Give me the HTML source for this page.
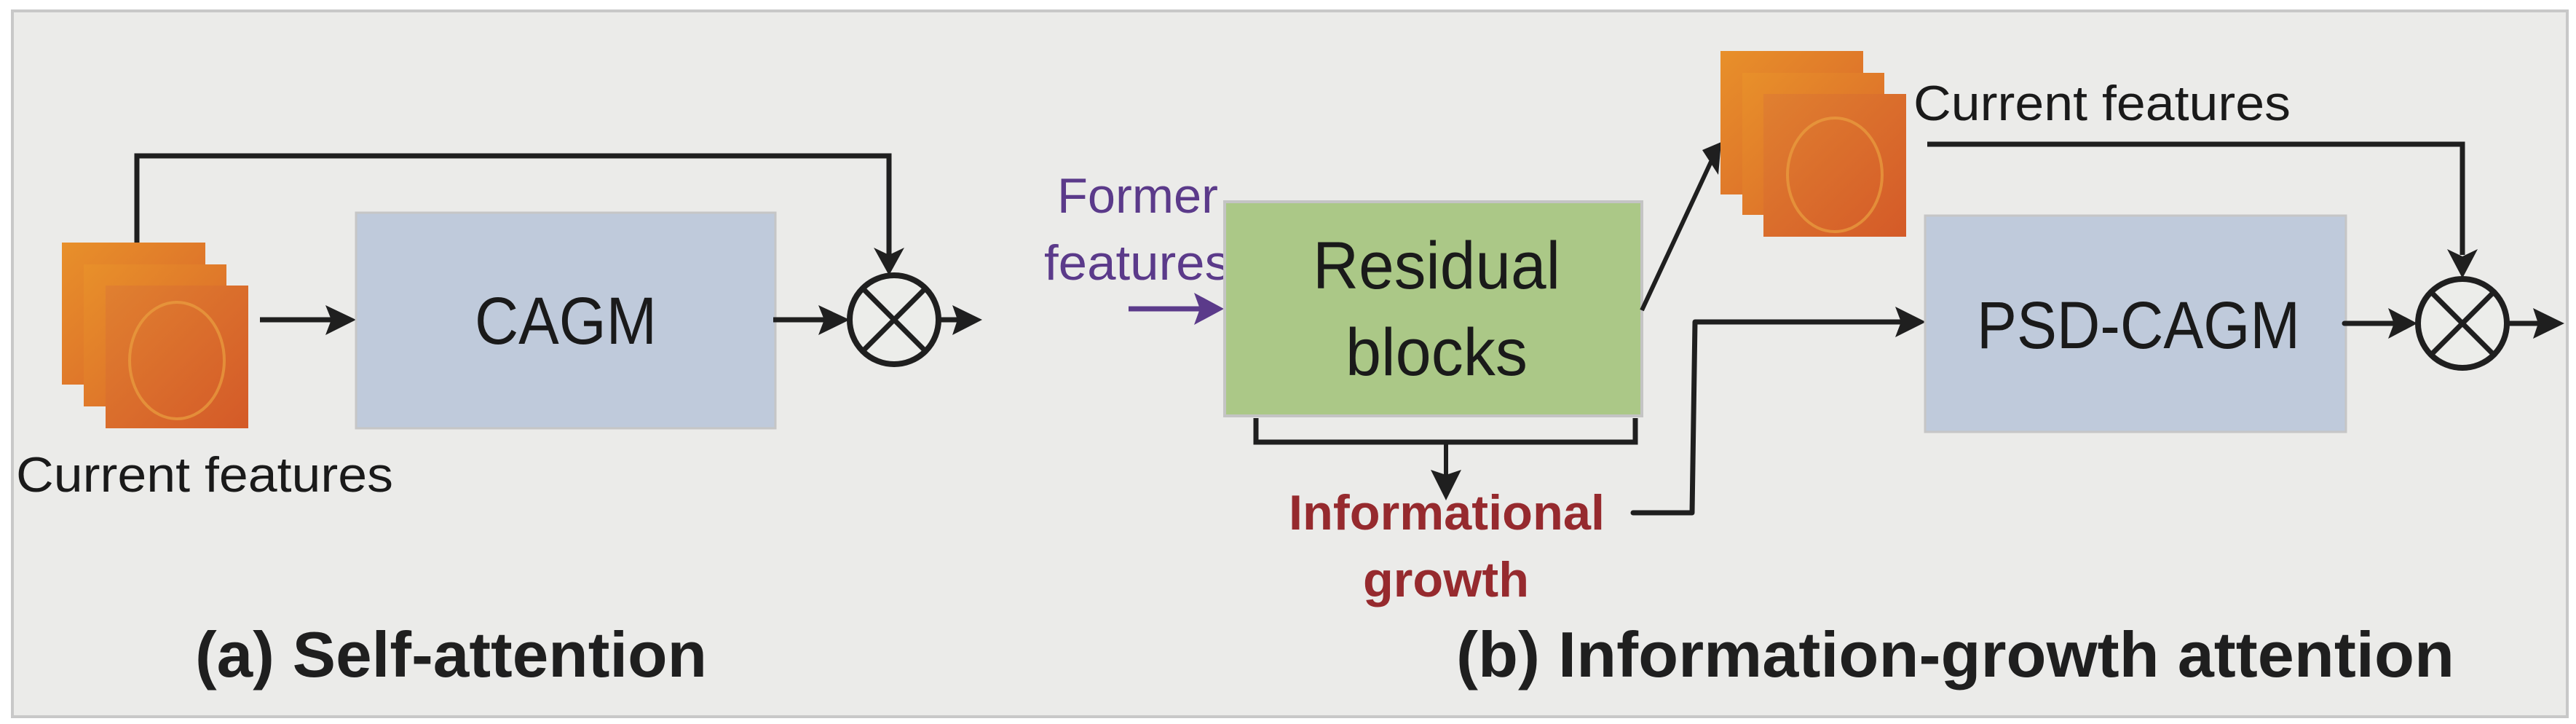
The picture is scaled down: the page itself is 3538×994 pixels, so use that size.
<!DOCTYPE html>
<html><head><meta charset="utf-8"><style>
html,body{margin:0;padding:0;background:#fff;}
svg{display:block;}
text{font-family:"Liberation Sans",sans-serif;}
</style></head><body>
<svg width="3538" height="994" viewBox="0 0 3538 994" xmlns="http://www.w3.org/2000/svg">
<defs>
<linearGradient id="fa" x1="0" y1="0" x2="1" y2="1">
<stop offset="0" stop-color="#e8902a"/><stop offset="0.5" stop-color="#e07a2a"/><stop offset="1" stop-color="#d8602a"/>
</linearGradient>
<linearGradient id="fb" x1="0" y1="0" x2="1" y2="1">
<stop offset="0" stop-color="#e08030"/><stop offset="1" stop-color="#d45a28"/>
</linearGradient>
<marker id="ah" markerWidth="10" markerHeight="10" refX="9" refY="5" orient="auto" markerUnits="userSpaceOnUse" viewBox="0 0 10 10">
</marker>
</defs>
<rect x="0" y="0" width="3538" height="994" fill="#ffffff"/>
<rect x="17" y="15" width="3509" height="969" fill="#ebebe9" stroke="#c8c8c8" stroke-width="4"/>

<!-- (a) -->
<g>
<rect x="85" y="333" width="197" height="195" fill="url(#fa)"/>
<rect x="115" y="363" width="196" height="195" fill="url(#fa)"/>
<rect x="145" y="392" width="196" height="196" fill="url(#fb)"/>
<ellipse cx="243" cy="495" rx="65" ry="80" fill="none" stroke="#eaa040" stroke-width="4" opacity="0.7"/>
</g>
<polyline points="188,333 188,214 1221,214 1221,350" fill="none" stroke="#1f1f1f" stroke-width="7"/>
<polygon points="1200,340 1221,378 1242,340 1221,350" fill="#1f1f1f"/>
<line x1="357" y1="439" x2="470" y2="439" stroke="#1f1f1f" stroke-width="7"/>
<polygon points="447,419 489,439 447,460 455,439" fill="#1f1f1f"/>
<rect x="489" y="292" width="576" height="296" fill="#bfcadb" stroke="#c6c6c6" stroke-width="3"/>
<text x="777" y="472" font-size="92" text-anchor="middle" fill="#1a1a1a" textLength="250" lengthAdjust="spacingAndGlyphs">CAGM</text>
<line x1="1062" y1="439" x2="1150" y2="439" stroke="#1f1f1f" stroke-width="7"/>
<polygon points="1124,419 1167,439 1124,460 1132,439" fill="#1f1f1f"/>
<circle cx="1228" cy="439" r="61" fill="#ecedea" stroke="#1f1f1f" stroke-width="8"/>
<line x1="1185" y1="396" x2="1271" y2="482" stroke="#1f1f1f" stroke-width="7"/>
<line x1="1271" y1="396" x2="1185" y2="482" stroke="#1f1f1f" stroke-width="7"/>
<line x1="1289" y1="439" x2="1320" y2="439" stroke="#1f1f1f" stroke-width="7"/>
<polygon points="1308,419 1349,439 1308,460 1315,439" fill="#1f1f1f"/>
<text x="22" y="675" font-size="68" fill="#1a1a1a" textLength="518" lengthAdjust="spacingAndGlyphs">Current features</text>
<text x="268" y="929" font-size="88" font-weight="bold" fill="#1f1f1f" textLength="703" lengthAdjust="spacingAndGlyphs">(a) Self-attention</text>

<!-- (b) -->
<text x="1452" y="292" font-size="68" fill="#5b3a8a" textLength="221" lengthAdjust="spacingAndGlyphs">Former</text>
<text x="1434" y="384" font-size="68" fill="#5b3a8a" textLength="256" lengthAdjust="spacingAndGlyphs">features</text>
<line x1="1550" y1="424" x2="1660" y2="424" stroke="#5b3a8a" stroke-width="7"/>
<polygon points="1640,402 1681,424 1640,446 1648,424" fill="#5b3a8a"/>
<rect x="1682" y="277" width="573" height="294" fill="#abc887" stroke="#c4c4c4" stroke-width="4"/>
<text x="1973" y="396" font-size="92" text-anchor="middle" fill="#1a1a1a" textLength="340" lengthAdjust="spacingAndGlyphs">Residual</text>
<text x="1973" y="515" font-size="92" text-anchor="middle" fill="#1a1a1a" textLength="250" lengthAdjust="spacingAndGlyphs">blocks</text>
<polyline points="1725,574 1725,607 2246,607 2246,574" fill="none" stroke="#1f1f1f" stroke-width="7"/>
<line x1="1986" y1="607" x2="1986" y2="660" stroke="#1f1f1f" stroke-width="6"/>
<polygon points="1965,645 1986,687 2007,645 1986,652" fill="#1f1f1f"/>
<text x="1770" y="727" font-size="68" font-weight="bold" fill="#962a2e" textLength="434" lengthAdjust="spacingAndGlyphs">Informational</text>
<text x="1872" y="819" font-size="68" font-weight="bold" fill="#962a2e" textLength="228" lengthAdjust="spacingAndGlyphs">growth</text>
<polyline points="2243,704 2324,704 2328,442 2625,442" fill="none" stroke="#1f1f1f" stroke-width="7" stroke-linejoin="round" stroke-linecap="round"/>
<polygon points="2603,421 2645,442 2603,463 2611,442" fill="#1f1f1f"/>
<line x1="2255" y1="426" x2="2350" y2="222" stroke="#1f1f1f" stroke-width="6"/>
<polygon points="2338,206 2364,195 2360,240" fill="#1f1f1f"/>
<g>
<rect x="2363" y="70" width="196" height="197" fill="url(#fa)"/>
<rect x="2393" y="100" width="195" height="195" fill="url(#fa)"/>
<rect x="2422" y="129" width="196" height="196" fill="url(#fb)"/>
<ellipse cx="2520" cy="240" rx="65" ry="78" fill="none" stroke="#eaa040" stroke-width="4" opacity="0.7"/>
</g>
<text x="2628" y="165" font-size="68" fill="#1a1a1a" textLength="518" lengthAdjust="spacingAndGlyphs">Current features</text>
<polyline points="2647,198 3382,198 3382,350" fill="none" stroke="#1f1f1f" stroke-width="7"/>
<polygon points="3361,342 3382,382 3403,342 3382,352" fill="#1f1f1f"/>
<rect x="2644" y="296" width="578" height="297" fill="#bfcadb" stroke="#c6c6c6" stroke-width="3"/>
<text x="2937" y="478" font-size="92" text-anchor="middle" fill="#1a1a1a" textLength="444" lengthAdjust="spacingAndGlyphs">PSD-CAGM</text>
<line x1="3220" y1="444" x2="3300" y2="444" stroke="#1f1f1f" stroke-width="7" stroke-linecap="round"/>
<polygon points="3280,423 3320,444 3280,465 3288,444" fill="#1f1f1f"/>
<circle cx="3382" cy="444" r="61" fill="#ecedea" stroke="#1f1f1f" stroke-width="8"/>
<line x1="3339" y1="401" x2="3425" y2="487" stroke="#1f1f1f" stroke-width="7"/>
<line x1="3425" y1="401" x2="3339" y2="487" stroke="#1f1f1f" stroke-width="7"/>
<line x1="3443" y1="444" x2="3490" y2="444" stroke="#1f1f1f" stroke-width="7"/>
<polygon points="3479,423 3522,444 3479,465 3486,444" fill="#1f1f1f"/>
<text x="2000" y="929" font-size="88" font-weight="bold" fill="#1f1f1f" textLength="1371" lengthAdjust="spacingAndGlyphs">(b) Information-growth attention</text>
</svg>
</body></html>
